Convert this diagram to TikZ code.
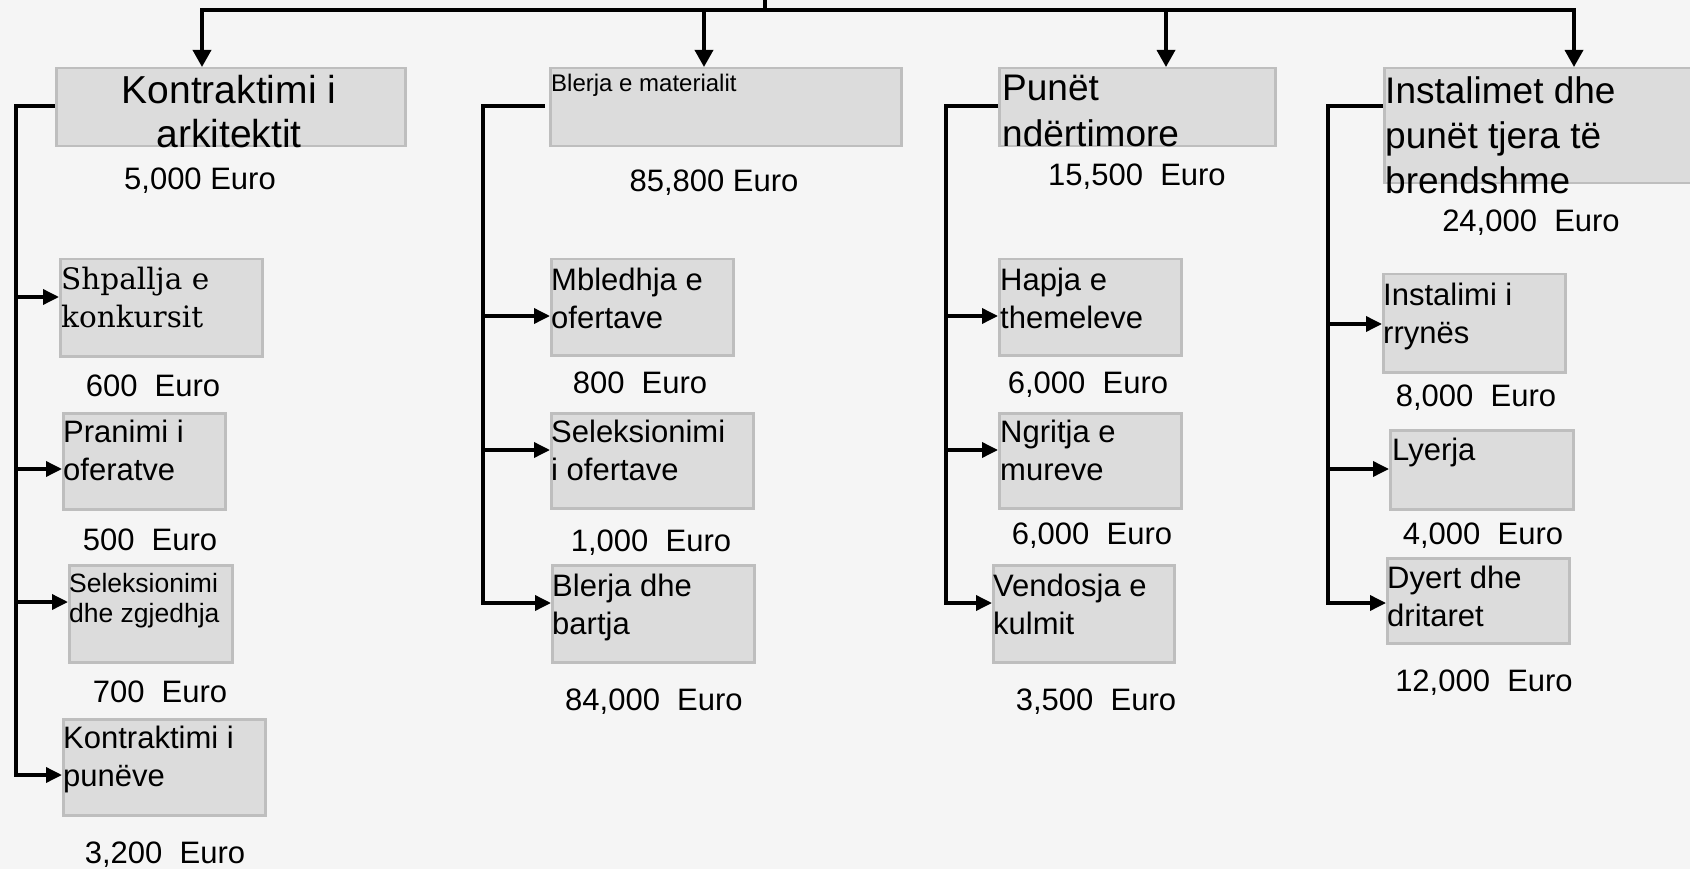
\documentclass[tikz,border=0pt]{standalone}
\usepackage{fontspec}
\setmainfont{Liberation Sans}
\newfontfamily\serifbk{DejaVu Serif}
\usetikzlibrary{arrows.meta,calc}
\definecolor{bg}{HTML}{F5F5F5}
\definecolor{boxfill}{HTML}{DCDCDC}
\definecolor{boxline}{HTML}{BEBEBE}
\tikzset{
 box/.style={draw=boxline, fill=boxfill, line width=2.5pt, inner sep=0pt, anchor=north west, rectangle},
 txt/.style={inner sep=0pt, anchor=north west, align=left, font=\fontsize{31}{38}\selectfont},
 cost/.style={inner sep=0pt, anchor=base, font=\fontsize{31}{38}\selectfont},
 ln/.style={line width=3.5pt, black},
 arr/.style={ln, -{Triangle[length=16pt,width=15pt]}},
 darr/.style={ln, -{Triangle[length=17pt,width=18pt]}},
}
\begin{document}
\begin{tikzpicture}[x=1pt,y=-1pt]
\path[fill=bg] (0,0) rectangle (1690,869);
\useasboundingbox (0,0) rectangle (1690,869);

% top level boxes
\node[box, minimum width=349pt, minimum height=78pt] (b1) at (55,67) {};
\node[box, minimum width=351pt, minimum height=78pt] (b2) at (549,67) {};
\node[box, minimum width=276pt, minimum height=78pt] (b3) at (998,67) {};
\node[box, minimum width=330pt, minimum height=115pt] (b4) at (1383,67) {};

% sub boxes
\node[box, minimum width=202pt, minimum height=97pt] (s11) at (59,258) {};
\node[box, minimum width=162pt, minimum height=96pt] (s12) at (62,412) {};
\node[box, minimum width=163pt, minimum height=97pt] (s13) at (68,564) {};
\node[box, minimum width=202pt, minimum height=96pt] (s14) at (62,718) {};
\node[box, minimum width=182pt, minimum height=96pt] (s21) at (550,258) {};
\node[box, minimum width=202pt, minimum height=95pt] (s22) at (550,412) {};
\node[box, minimum width=202pt, minimum height=97pt] (s23) at (551,564) {};
\node[box, minimum width=182pt, minimum height=96pt] (s31) at (998,258) {};
\node[box, minimum width=182pt, minimum height=95pt] (s32) at (998,412) {};
\node[box, minimum width=181pt, minimum height=97pt] (s33) at (992,564) {};
\node[box, minimum width=182pt, minimum height=98pt] (s41) at (1382,273) {};
\node[box, minimum width=183pt, minimum height=79pt] (s42) at (1389,429) {};
\node[box, minimum width=182pt, minimum height=85pt] (s43) at (1386,557) {};

% top connectors
\coordinate (root) at (765,0);
\coordinate (hub) at (765,10);
\coordinate (h1) at (202,10);
\coordinate (h2) at (704,10);
\coordinate (h3) at (1166,10);
\coordinate (h4) at (1574,10);
\draw[ln] (root) -- (hub);
\draw[ln, line cap=rect] (h1) -- (h4);
\draw[darr] (h1) -- (h1 |- b1.north);
\draw[darr] (h2) -- (h2 |- b2.north);
\draw[darr] (h3) -- (h3 |- b3.north);
\draw[darr] (h4) -- (h4 |- b4.north);

% trunks
\coordinate (t1) at (16,0);
\coordinate (t2) at (483,0);
\coordinate (t3) at (946,0);
\coordinate (t4) at (1328,0);
\coordinate (l1) at ($(b1.north west)+(0,39)$);
\coordinate (l2) at ($(b2.north west)+(-4,39)$);
\coordinate (l3) at ($(b3.north west)+(0,39)$);
\coordinate (l4) at ($(b4.north west)+(0,39)$);

\coordinate (a11) at (s11.west |- 0,297);
\coordinate (a12) at (s12.west |- 0,469);
\coordinate (a13) at (s13.west |- 0,602);
\coordinate (a14) at (s14.west |- 0,775);
\coordinate (a21) at (s21.west |- 0,316);
\coordinate (a22) at (s22.west |- 0,450);
\coordinate (a23) at (s23.west |- 0,603);
\coordinate (a31) at (s31.west |- 0,316);
\coordinate (a32) at (s32.west |- 0,450);
\coordinate (a33) at (s33.west |- 0,603);
\coordinate (a41) at (s41.west |- 0,324);
\coordinate (a42) at (s42.west |- 0,469);
\coordinate (a43) at (s43.west |- 0,603);

\draw[arr] (l1) -| (t1 |- a14) -- (a14);
\draw[arr] (t1 |- a11) -- (a11);
\draw[arr] (t1 |- a12) -- (a12);
\draw[arr] (t1 |- a13) -- (a13);

\draw[arr] (l2) -| (t2 |- a23) -- (a23);
\draw[arr] (t2 |- a21) -- (a21);
\draw[arr] (t2 |- a22) -- (a22);

\draw[arr] (l3) -| (t3 |- a33) -- (a33);
\draw[arr] (t3 |- a31) -- (a31);
\draw[arr] (t3 |- a32) -- (a32);

\draw[arr] (l4) -| (t4 |- a43) -- (a43);
\draw[arr] (t4 |- a41) -- (a41);
\draw[arr] (t4 |- a42) -- (a42);

% top texts
\node[txt, anchor=north, align=center, font=\fontsize{39}{44}\selectfont] (x1) at (229,75) {Kontraktimi i\\arkitektit};
\node[txt, font=\fontsize{24}{29}\selectfont] (x2) at (551,74) {Blerja e materialit};
\node[txt, font=\fontsize{37}{46}\selectfont] (x3) at (1002,75) {Punët\\ndërtimore};
\node[txt, font=\fontsize{37}{45}\selectfont] (x4) at (1385,76) {Instalimet dhe\\punët tjera të\\brendshme};

% sub texts
\node[txt, font=\serifbk\fontsize{29.5}{38}\selectfont] (y11) at (61,267) {Shpallja e\\konkursit};
\node[txt] (y12) at (63,420) {Pranimi i\\oferatve};
\node[txt, font=\fontsize{26.5}{30}\selectfont] (y13) at (69,573) {Seleksionimi\\dhe zgjedhja};
\node[txt] (y14) at (63,726) {Kontraktimi i\\punëve};
\node[txt] (y21) at (551,268) {Mbledhja e\\ofertave};
\node[txt] (y22) at (551,420) {Seleksionimi\\i ofertave};
\node[txt] (y23) at (552,574) {Blerja dhe\\bartja};
\node[txt] (y31) at (1000,268) {Hapja e\\themeleve};
\node[txt] (y32) at (1000,420) {Ngritja e\\mureve};
\node[txt] (y33) at (993,574) {Vendosja e\\kulmit};
\node[txt] (y41) at (1383,283) {Instalimi i\\rrynës};
\node[txt] (y42) at (1392,438) {Lyerja};
\node[txt] (y43) at (1387,566) {Dyert dhe\\dritaret};

% costs
\node[cost] (c1) at (200,190) {5,000 Euro};
\node[cost] (c2) at (714,192) {85,800 Euro};
\node[cost] (c3) at (1137,186) {15,500~~Euro};
\node[cost] (c4) at (1531,232) {24,000~~Euro};
\node[cost] (c11) at (153,396) {600~~Euro};
\node[cost] (c12) at (150,550) {500~~Euro};
\node[cost] (c13) at (160,702) {700~~Euro};
\node[cost] (c14) at (165,863) {3,200~~Euro};
\node[cost] (c21) at (640,393) {800~~Euro};
\node[cost] (c22) at (651,551) {1,000~~Euro};
\node[cost] (c23) at (654,710) {84,000~~Euro};
\node[cost] (c31) at (1088,393) {6,000~~Euro};
\node[cost] (c32) at (1092,544) {6,000~~Euro};
\node[cost] (c33) at (1096,710) {3,500~~Euro};
\node[cost] (c41) at (1476,406) {8,000~~Euro};
\node[cost] (c42) at (1483,544) {4,000~~Euro};
\node[cost] (c43) at (1484,691) {12,000~~Euro};
\end{tikzpicture}
\end{document}
